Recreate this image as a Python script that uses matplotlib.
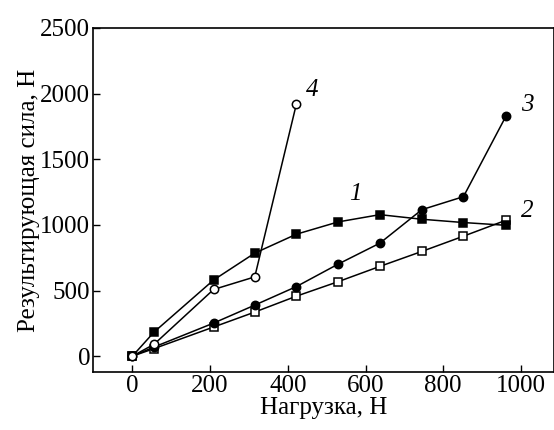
import matplotlib
matplotlib.use('Agg')
import matplotlib.pyplot as plt

plt.rcParams['font.family'] = ['Liberation Serif', 'DejaVu Serif']
plt.rcParams['font.size'] = 18

# нагрузка, Н
x1 = [0, 56, 209, 315, 422, 530, 637, 745, 852, 961]
y1 = [0, 184, 580, 785, 929, 1023, 1078, 1043, 1018, 997]

x2 = [0, 56, 209, 315, 422, 530, 637, 745, 852, 961]
y2 = [0, 58, 222, 336, 457, 568, 684, 798, 914, 1035]

x3 = [0, 56, 209, 315, 422, 530, 637, 745, 852, 961]
y3 = [0, 70, 252, 389, 530, 702, 861, 1116, 1215, 1826]

x4 = [0, 56, 209, 315, 422]
y4 = [0, 91, 508, 604, 1919]

fig = plt.figure(figsize=(5.54, 4.30), dpi=100)
ax = fig.add_axes([0.168, 0.135, 0.832, 0.8])

kw = dict(color='black', lw=1.1, ms=6, markeredgewidth=1.1)
ax.plot(x2, y2, marker='s', mfc='white', **kw)
ax.plot(x3, y3, marker='o', mfc='black', **kw)
ax.plot(x1, y1, marker='s', mfc='black', **kw)
ax.plot(x4, y4, marker='o', mfc='white', **kw)

# номера кривых
ax.text(573, 1237, '1', style='italic', ha='center', va='center')
ax.text(1017, 1106, '2', style='italic', ha='center', va='center')
ax.text(1017, 1914, '3', style='italic', ha='center', va='center')
ax.text(463, 2028, '4', style='italic', ha='center', va='center')

ax.set_xlim(-101, 1085)
ax.set_ylim(-120, 2490)
ax.set_xticks([0, 200, 400, 600, 800, 1000])
ax.set_yticks([0, 500, 1000, 1500, 2000, 2500])
ax.tick_params(direction='in', length=5, width=1, pad=2)
for s in ax.spines.values():
    s.set_linewidth(1.2)

ax.set_xlabel('Нагрузка, Н', labelpad=0)
ax.set_ylabel('Результирующая сила, Н', labelpad=0)

fig.savefig('out.png', dpi=100)
